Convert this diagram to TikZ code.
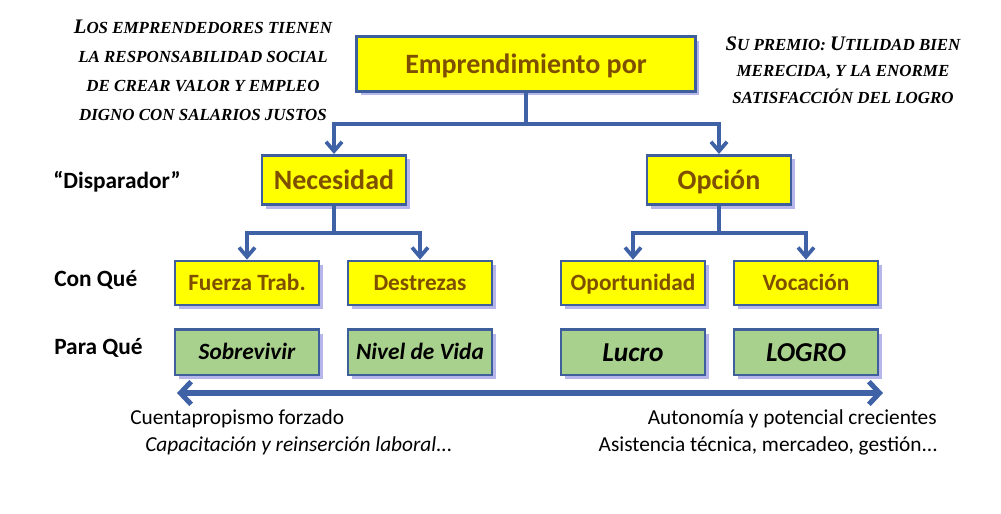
\documentclass[tikz,border=0pt]{standalone}
\usepackage{fontspec}
\setmainfont{Carlito}
\newfontfamily\mottofont{Liberation Serif}
\usepackage{xcolor}
\usepackage{tikz}
\usetikzlibrary{arrows.meta,positioning,shadows}

\definecolor{boxblue}{HTML}{3F5F9C}
\definecolor{linkblue}{HTML}{3F62A6}
\definecolor{boxyellow}{HTML}{FFFF00}
\definecolor{boxgreen}{HTML}{A9D18E}
\definecolor{textbrown}{HTML}{7F4F00}
\definecolor{shadowblue}{HTML}{A4A4E6}

% capital letter of the small caps lines
\newcommand{\mottocap}[1]{{\fontsize{15.5}{20}\selectfont #1}}

\begin{document}
\begin{tikzpicture}[
        x=0.75pt, y=-0.75pt,
        box/.style={draw=boxblue, line width=2pt, fill=boxyellow, text=textbrown, align=center, inner sep=0pt,
            text depth=0pt,
            drop shadow={shadow xshift=3pt, shadow yshift=-3pt, fill=shadowblue, opacity=0.8}},
        bigbox/.style={box, minimum width=254pt, minimum height=41pt, text height=13.5pt, font=\fontsize{21}{25}\selectfont\bfseries},
        midbox/.style={box, minimum width=108pt, minimum height=37pt, text height=13.5pt, font=\fontsize{21}{25}\selectfont\bfseries},
        smallbox/.style={box, minimum width=108pt, minimum height=33pt, text height=11.3pt, font=\fontsize{17.5}{21}\selectfont\bfseries},
        goalbox/.style={smallbox, fill=boxgreen, text=black, minimum height=34pt, font=\fontsize{17.5}{21}\selectfont\bfseries\itshape},
        rowlabel/.style={anchor=west, inner sep=0pt, font=\fontsize{17.5}{21}\selectfont\bfseries},
        motto/.style={align=center, inner sep=0pt, font=\mottofont\bfseries\itshape\fontsize{12.7}{#1}\selectfont},
        note/.style={inner sep=0pt, font=\fontsize{16}{19}\selectfont},
        line/.style={draw=linkblue, line width=2.8pt, -{Straight Barb[length=7pt, width=12pt]}},
        scaleline/.style={draw=linkblue, line width=3.8pt, {Straight Barb[length=8pt, width=17pt]}-{Straight Barb[length=8pt, width=17pt]}}
    ]
    \useasboundingbox (0,0) rectangle (1001,514);

    % TEXTOS SUPERIORES
    \node[motto=21.75pt] (resp) at (203,70) {\mottocap{L}OS EMPRENDEDORES TIENEN\\ LA RESPONSABILIDAD SOCIAL\\ DE CREAR VALOR Y EMPLEO\\ DIGNO CON SALARIOS JUSTOS};
    \node[motto=20pt] (premio) at (843,70) {\mottocap{S}U PREMIO: \mottocap{U}TILIDAD BIEN\\ MERECIDA, Y LA ENORME\\ SATISFACCIÓN DEL LOGRO};

    % ARBOL
    \node[bigbox] (empr) at (526,64) {Emprendimiento por};
    \node[midbox] (nec) at (334,180) {Necesidad};
    \node[midbox] (opc) at (719,180) {Opción};

    \node[smallbox] (fuerza) at (247,283) {Fuerza Trab.};
    \node[smallbox] (destr) at (420,283) {Destrezas};
    \node[smallbox] (oport) at (633,283) {Oportunidad};
    \node[smallbox] (voca) at (806,283) {Vocación};

    \node[goalbox, below=16.5pt of fuerza] (sobre) {Sobrevivir};
    \node[goalbox, below=16.5pt of destr] (nivel) {Nivel de Vida};
    \node[goalbox, below=16.5pt of oport, text height=13.2pt, font=\fontsize{20.5}{24}\selectfont\bfseries\itshape] (lucro) {Lucro};
    \node[goalbox, below=16.5pt of voca, text height=13.2pt, font=\fontsize{20.5}{24}\selectfont\bfseries\itshape] (logro) {LOGRO};

    % ETIQUETAS DE FILA
    \node[rowlabel] (disp) at (53,182) {“Disparador”};
    \node[rowlabel] (conque) at (54,280) {Con Qué};
    \node[rowlabel] (paraque) at (54,348) {Para Qué};

    % CONEXIONES
    \coordinate (emprsplit) at (526,124);
    \coordinate (necsplit) at (334,233);
    \coordinate (opcsplit) at (719,233);

    \draw[line] (empr.south) -- (emprsplit) -| (nec.north);
    \draw[line] (emprsplit) -| (opc.north);
    \draw[line] (nec.south) -- (necsplit) -| (fuerza.north);
    \draw[line] (necsplit) -| (destr.north);
    \draw[line] (opc.south) -- (opcsplit) -| (oport.north);
    \draw[line] (opcsplit) -| (voca.north);

    % ESCALA
    \coordinate (scaleleft) at (177,393);
    \coordinate (scaleright) at (883,393);
    \draw[scaleline] (scaleleft) -- (scaleright);

    \node[note, anchor=west] (cuenta) at (130,419) {Cuentapropismo forzado};
    \node[note, anchor=west, font=\fontsize{16}{19}\selectfont\itshape] (capac) at (145,446) {Capacitación y reinserción laboral...};
    \node[note, anchor=east] (auton) at (937,419) {Autonomía y potencial crecientes};
    \node[note, anchor=east] (asist) at (938,446) {Asistencia técnica, mercadeo, gestión...};

\end{tikzpicture}
\end{document}
